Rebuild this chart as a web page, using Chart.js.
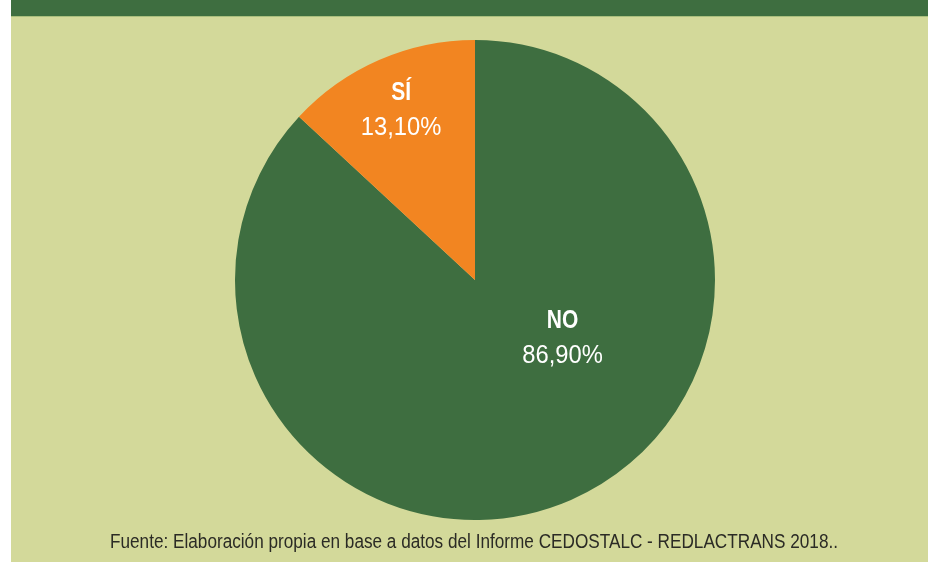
<!DOCTYPE html>
<html lang="es">
<head>
<meta charset="utf-8">
<script src="https://cdn.jsdelivr.net/npm/chart.js@4"></script>
<style>
  html, body { margin: 0; padding: 0; }
  body { width: 928px; height: 562px; background: #ffffff; position: relative; overflow: hidden; }
  #panel { position: absolute; left: 11px; top: 0; right: 0; bottom: 0; background: #d3d99a; }
  #banda { position: absolute; left: 11px; top: 0; right: 0; height: 16px; background: #3e6e40; border-bottom: 1px solid #a9bf7d; }
  #wrap { position: absolute; left: 0; top: 0; width: 928px; height: 562px; }
  #fuente {
    position: absolute; left: 474px; top: 529px; transform-origin: 0 0;
    font-family: "Liberation Sans", Arial, sans-serif;
    font-size: 20px; line-height: 24px; color: #2b2b25; white-space: nowrap;
  }
</style>
</head>
<body>
<div id="panel"></div>
<div id="banda"></div>
<div id="wrap"><canvas id="pieChart"></canvas></div>
<div id="fuente">Fuente: Elaboración propia en base a datos del Informe CEDOSTALC - REDLACTRANS 2018..</div>
<script>
// Datos del gráfico
const categorias = ['NO', 'SÍ'];
const porcentajes = [86.9, 13.1];
const textosPct = ['86,90%', '13,10%'];
const colores = ['#3e6e40', '#f28521'];

// texto condensado (la fuente original es estrecha)
function textoEstrecho(ctx, txt, x, y, escala) {
  ctx.save();
  ctx.translate(x, y);
  ctx.scale(escala, 1);
  ctx.fillText(txt, 0, 0);
  ctx.restore();
}

// Etiquetas dentro de cada porción
const etiquetasPlugin = {
  id: 'etiquetas',
  afterDatasetsDraw(chart, args, opts) {
    const ctx = chart.ctx;
    const meta = chart.getDatasetMeta(0);
    meta.data.forEach(function(arc, i) {
      const p = arc.getProps(['x', 'y', 'startAngle', 'endAngle', 'outerRadius'], true);
      const ajuste = opts.posiciones[i];
      const ang = ajuste.ang !== null ? ajuste.ang * Math.PI / 180 : (p.startAngle + p.endAngle) / 2;
      const r = p.outerRadius * ajuste.r;
      const x = p.x + Math.cos(ang) * r;
      const y = p.y + Math.sin(ang) * r;
      ctx.save();
      ctx.fillStyle = '#ffffff';
      ctx.textAlign = 'center';
      ctx.textBaseline = 'middle';
      ctx.font = 'bold 25px "Liberation Sans", sans-serif';
      textoEstrecho(ctx, categorias[i], x, y - 18, 0.84);
      ctx.font = '25px "Liberation Sans", sans-serif';
      textoEstrecho(ctx, textosPct[i], x, y + 17, 0.95);
      ctx.restore();
    });
  }
};

document.addEventListener('DOMContentLoaded', function() {
  // ajustar la nota al ancho del original
  const nota = document.getElementById('fuente');
  const ancho = nota.getBoundingClientRect().width;
  const esc = 728 / ancho;
  nota.style.transform = 'scaleX(' + esc + ') translateX(-50%)';

  const ctx = document.getElementById('pieChart').getContext('2d');
  new Chart(ctx, {
    type: 'pie',
    data: {
      labels: categorias,
      datasets: [{
        data: porcentajes,
        backgroundColor: colores,
        borderWidth: 0
      }]
    },
    options: {
      responsive: true,
      maintainAspectRatio: false,
      animation: false,
      layout: { padding: { left: 235, right: 213, top: 40, bottom: 42 } },
      plugins: {
        legend: { display: false },
        tooltip: { enabled: false },
        etiquetas: {
          posiciones: [{ r: 0.44, ang: 34 }, { r: 0.77, ang: null }]
        }
      }
    },
    plugins: [etiquetasPlugin]
  });
});
</script>
</body>
</html>
